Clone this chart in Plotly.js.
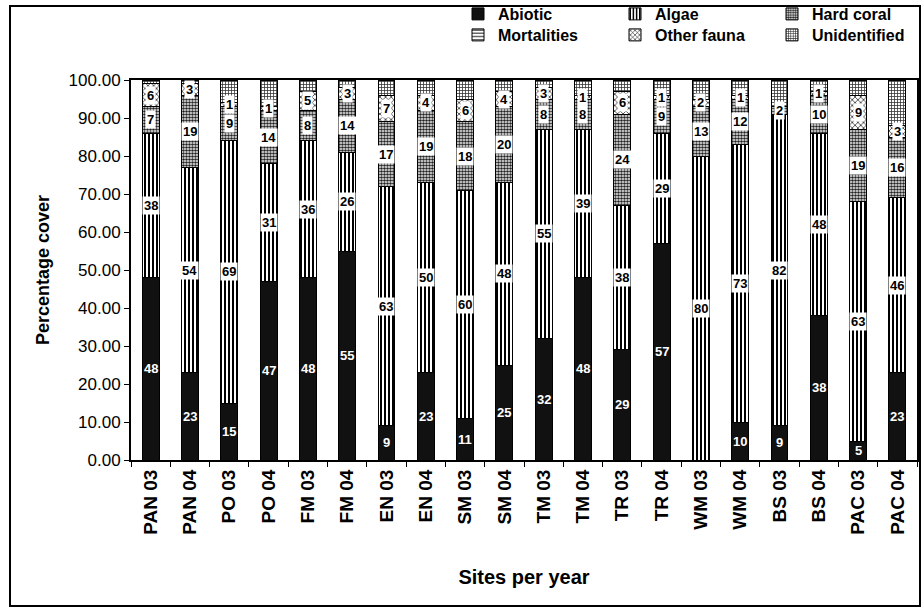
<!DOCTYPE html>
<html>
<head>
<meta charset="utf-8">
<script src="https://cdn.plot.ly/plotly-3.0.1.min.js"></script>
<style>
  html, body { margin: 0; padding: 0; background: #fff; }
  #chart { width: 923px; height: 609px; }
</style>
</head>
<body>
<div id="chart"></div>
<script>
// Benthic cover (%) per survey site and year
const sites = ['PAN 03','PAN 04','PO 03','PO 04','FM 03','FM 04','EN 03','EN 04','SM 03','SM 04',
               'TM 03','TM 04','TR 03','TR 04','WM 03','WM 04','BS 03','BS 04','PAC 03','PAC 04'];
const abiotic      = [48, 23, 15, 47, 48, 55,  9, 23, 11, 25, 32, 48, 29, 57,  0, 10,  9, 38,  5, 23];
const algae        = [38, 54, 69, 31, 36, 26, 63, 50, 60, 48, 55, 39, 38, 29, 80, 73, 82, 48, 63, 46];
const hardCoral    = [ 7, 19,  9, 14,  8, 14, 17, 19, 18, 20,  8,  8, 24,  9, 13, 12,  2, 10, 19, 16];
const mortalities  = [ 0,  0,  0,  0,  0,  0,  0,  0,  0,  0,  0,  0,  0,  0,  0,  0,  0,  0,  0,  0];
const otherFauna   = [ 6,  3,  1,  1,  5,  3,  7,  4,  6,  4,  3,  1,  6,  1,  2,  1,  0,  1,  9,  3];
const unidentified = [ 1,  1,  6,  7,  3,  2,  4,  4,  5,  3,  2,  4,  3,  4,  5,  4,  7,  3,  4, 12];

const FONT = 'Liberation Sans, Arial, sans-serif';

// series: values, name, fill, legend row, whether segments carry value labels
const series = [
  {y: abiotic,      name: 'Abiotic',      legend: 'legend',  label: 'white',
   marker: {color: '#111111'}},
  {y: algae,        name: 'Algae',        legend: 'legend',  label: 'box',
   marker: {color: '#ffffff', pattern: {shape: '|', fgcolor: '#000', bgcolor: '#fff', size: 4, solidity: 0.5}}},
  {y: hardCoral,    name: 'Hard coral',   legend: 'legend',  label: 'box',
   marker: {color: '#ffffff', pattern: {shape: '.', fgcolor: '#222', bgcolor: '#fff', size: 3, solidity: 0.6}}},
  {y: mortalities,  name: 'Mortalities',  legend: 'legend2', label: 'box',
   marker: {color: '#ffffff', pattern: {shape: '-', fgcolor: '#000', bgcolor: '#fff', size: 4, solidity: 0.3}}},
  {y: otherFauna,   name: 'Other fauna',  legend: 'legend2', label: 'box',
   marker: {color: '#ffffff', pattern: {shape: 'x', fgcolor: '#000', bgcolor: '#fff', size: 4, solidity: 0.3}}},
  {y: unidentified, name: 'Unidentified', legend: 'legend2', label: null,
   marker: {color: '#ffffff', pattern: {shape: '+', fgcolor: '#333', bgcolor: '#fff', size: 3, solidity: 0.45}}}
];

const traces = series.map(s => ({
  type: 'bar',
  x: sites,
  y: s.y,
  name: s.name,
  legend: s.legend,
  hoverinfo: 'skip',
  marker: Object.assign({}, s.marker, {line: {color: '#000', width: 1}})
}));

// value labels centred in each stacked segment
const annotations = [];
const base = sites.map(() => 0);
series.forEach(s => {
  s.y.forEach((v, i) => {
    if (s.label && v > 0) {
      annotations.push({
        x: sites[i], y: base[i] + v / 2, xref: 'x', yref: 'y',
        text: String(v), showarrow: false,
        font: {family: FONT, size: 13, weight: 'bold', color: s.label === 'white' ? '#fff' : '#000'},
        bgcolor: s.label === 'white' ? 'rgba(0,0,0,0)' : '#fff',
        borderpad: 1
      });
    }
    base[i] += v;
  });
});

const PLOT_L = 131, PLOT_R = 6, PLOT_T = 80, PLOT_B = 149;
const W = 923, H = 609;
const pw = W - PLOT_L - PLOT_R, ph = H - PLOT_T - PLOT_B;
const px = x => (x - PLOT_L) / pw;
const py = y => (H - PLOT_B - y) / ph;

const legendCommon = {
  orientation: 'h', xanchor: 'left', yanchor: 'middle',
  entrywidth: 112, entrywidthmode: 'pixels',
  font: {family: FONT, size: 16, weight: 'bold', color: '#000'},
  bgcolor: 'rgba(0,0,0,0)', borderwidth: 0, traceorder: 'normal'
};

const layout = {
  width: W, height: H,
  margin: {l: PLOT_L, r: PLOT_R, t: PLOT_T, b: PLOT_B, autoexpand: false},
  paper_bgcolor: '#fff', plot_bgcolor: '#fff',
  barmode: 'stack', bargap: 0.57,
  font: {family: FONT, color: '#000'},
  xaxis: {
    type: 'category', showline: true, linecolor: '#000', linewidth: 2, mirror: true,
    ticks: 'outside', tickson: 'boundaries', ticklen: 5, tickcolor: '#000',
    tickangle: -90, tickfont: {family: FONT, size: 19, weight: 'bold', color: '#000'},
    showgrid: false, automargin: false,
    title: {text: 'Sites per year', standoff: 36, font: {family: FONT, size: 20, weight: 'bold', color: '#000'}}
  },
  yaxis: {
    range: [0, 100], dtick: 10, tickformat: '.2f',
    showline: true, linecolor: '#000', linewidth: 2, mirror: true,
    ticks: 'outside', ticklen: 5, tickcolor: '#000',
    tickfont: {family: FONT, size: 17, color: '#000'},
    showgrid: false, zeroline: false, automargin: false,
    title: {text: 'Percentage cover', standoff: 14, font: {family: FONT, size: 18, weight: 'bold', color: '#000'}}
  },
  legend: Object.assign({}, legendCommon, {x: px(458), y: py(14)}),
  legend2: Object.assign({}, legendCommon, {x: px(458), y: py(35)}),
  annotations: annotations,
  shapes: [{
    type: 'rect', xref: 'paper', yref: 'paper',
    x0: px(10), x1: px(920), y0: py(606), y1: py(6),
    line: {color: '#000', width: 2}, fillcolor: 'rgba(0,0,0,0)', layer: 'above'
  }]
};

Plotly.newPlot('chart', traces, layout, {displayModeBar: false, staticPlot: true});
</script>
</body>
</html>
